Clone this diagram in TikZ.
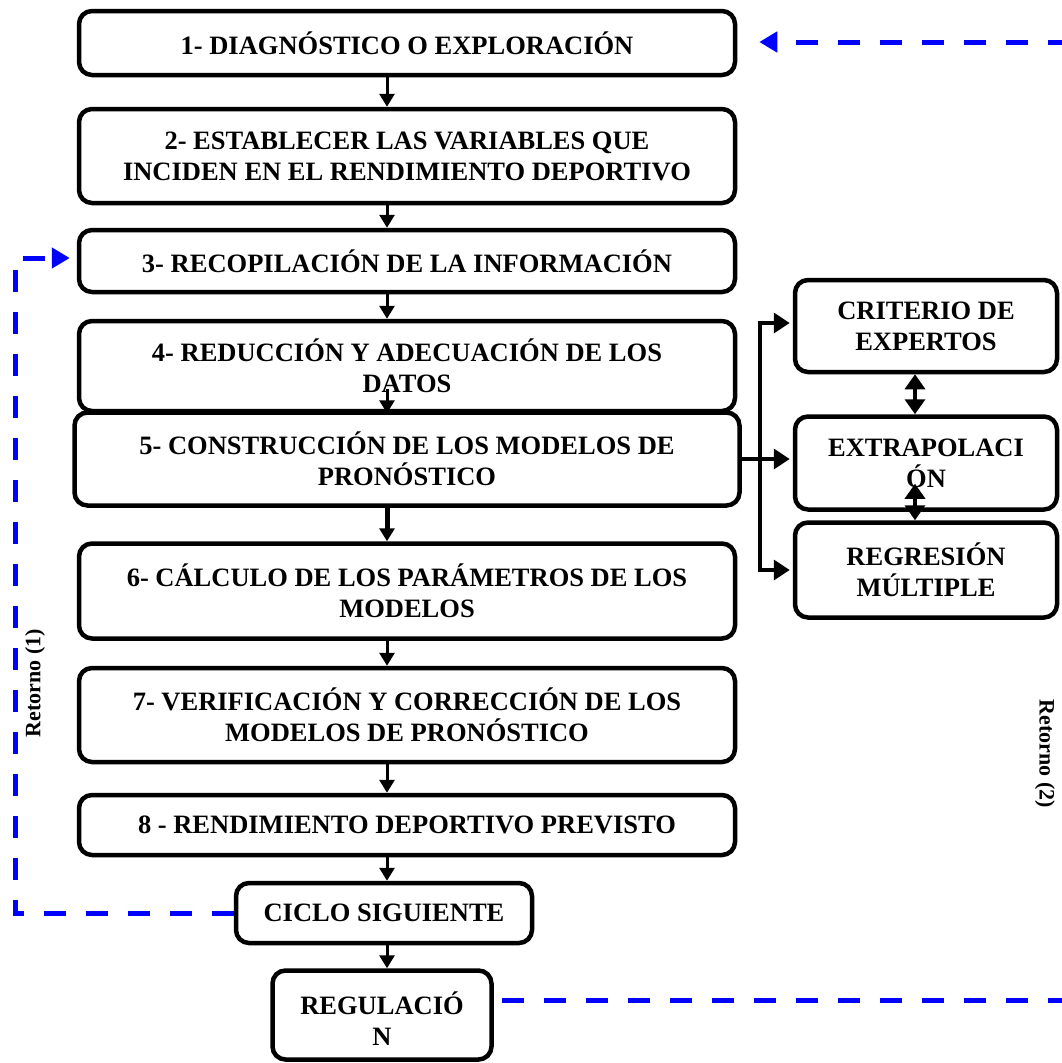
\documentclass[tikz,border=0pt]{standalone}
\usepackage{fontspec}
\setmainfont{Liberation Serif}
\usetikzlibrary{arrows.meta}
\begin{document}
\begin{tikzpicture}[x=1pt,y=-1pt,
  box/.style={draw=black,line width=4.5pt,rounded corners=13pt,align=center,
    font=\fontsize{26.5}{31}\selectfont\bfseries,inner sep=0pt,fill=white},
  mainbox/.style={box,minimum width=656pt},
  sidebox/.style={box,minimum width=262pt},
  arr/.style={line width=3pt,-{Triangle[length=13pt,width=15pt]}},
  sarr/.style={line width=3.5pt,-{Triangle[length=16pt,width=20pt]}},
  darr/.style={line width=3.5pt,{Triangle[length=15pt,width=20pt]}-{Triangle[length=15pt,width=20pt]}},
  bdash/.style={draw=blue,line width=5pt,dash pattern=on 22pt off 20pt},
  btip/.style={-{Triangle[length=18pt,width=20pt,fill=blue]}},
  lbl/.style={font=\fontsize{22}{26}\selectfont\bfseries}]
\useasboundingbox (0,0) rectangle (1062,1063);
\node[mainbox,minimum height=64pt] (b1) at (407,43) {1- DIAGNÓSTICO O EXPLORACIÓN};
\node[mainbox,minimum height=94pt] (b2) at (407,156) {2- ESTABLECER LAS VARIABLES QUE\\INCIDEN EN EL RENDIMIENTO DEPORTIVO};
\node[mainbox,minimum height=62pt] (b3) at (407,261) {3- RECOPILACIÓN DE LA INFORMACIÓN};
\node[mainbox,minimum height=90pt] (b4) at (407,366) {4- REDUCCIÓN Y ADECUACIÓN DE LOS\\DATOS};
\node[box,minimum width=665pt,minimum height=93pt] (b5) at (407,459) {5- CONSTRUCCIÓN DE LOS MODELOS DE\\PRONÓSTICO};
\node[mainbox,minimum height=95pt] (b6) at (407,591) {6- CÁLCULO DE LOS PARÁMETROS DE LOS\\MODELOS};
\node[mainbox,minimum height=94pt] (b7) at (407,715) {7- VERIFICACIÓN Y CORRECCIÓN DE LOS\\MODELOS DE PRONÓSTICO};
\node[mainbox,minimum height=60pt] (b8) at (407,825) {8 - RENDIMIENTO DEPORTIVO PREVISTO};
\node[box,minimum width=296pt,minimum height=60pt] (ciclo) at (384,913) {CICLO SIGUIENTE};
\node[box,minimum width=219pt,minimum height=89pt] (reg) at (382,1015) {\rule{0pt}{30pt}REGULACIÓ\\N};
\node[sidebox,minimum height=92pt] (c1) at (926,326) {CRITERIO DE\\EXPERTOS};
\node[sidebox,minimum height=93pt] (c2) at (926,463) {EXTRAPOLACI\\ÓN};
\node[sidebox,minimum height=95pt] (c3) at (926,570) {REGRESIÓN\\MÚLTIPLE};
% main flow
\draw[arr] ([xshift=-20pt]b1.south) -- ([xshift=-20pt]b2.north);
\draw[arr] ([xshift=-20pt]b2.south) -- ([xshift=-20pt]b3.north);
\draw[arr] ([xshift=-20pt]b3.south) -- ([xshift=-20pt]b4.north);
\draw[arr] ([xshift=-20pt,yshift=24pt]b4.south) -- ([xshift=-20pt]b4.south);
\draw[arr,line width=5pt] ([xshift=-20pt]b5.south) -- ([xshift=-20pt]b6.north);
\draw[arr] ([xshift=-20pt]b6.south) -- ([xshift=-20pt]b7.north);
\draw[arr] ([xshift=-20pt]b7.south) -- ([xshift=-20pt]b8.north);
\draw[arr] ([xshift=-20pt]b8.south) -- ([xshift=3pt]ciclo.north);
\draw[arr] ([xshift=3pt]ciclo.south) -- ([xshift=5pt]reg.north);
% branch to models
\coordinate (j) at (760,459);
\draw[line width=3.5pt] (b5.east) -- (j);
\draw[sarr,shorten >=3pt] (j) |- ([yshift=3pt]c1.west);
\draw[sarr,shorten >=3pt] (j) -- (j -| c2.west);
\draw[sarr,shorten >=3pt] (j) |- (c3.west);
\draw[darr] ([xshift=-11pt]c1.south) -- ([xshift=-11pt]c2.north);
\draw[darr] ([xshift=-11pt,yshift=28pt]c2.south) -- ([xshift=-11pt]c3.north);
% returns
\coordinate (rt) at (1070,42);
\coordinate (lc) at (15,258);
\coordinate (rb) at (1070,1000);
\draw[bdash,btip,shorten >=22pt] (rt) -- (rt -| b1.east);
\draw[bdash,btip,shorten >=7pt] (ciclo.west) -| (lc) -- (lc -| b3.west);
\draw[bdash,shorten >=8pt] (rb) -- (rb -| reg.east);
\node[lbl,rotate=90] (ret1) at (35,683) {Retorno (1)};
\node[lbl,rotate=-90] (ret2) at (1045,754) {Retorno (2)};
\end{tikzpicture}
\end{document}
